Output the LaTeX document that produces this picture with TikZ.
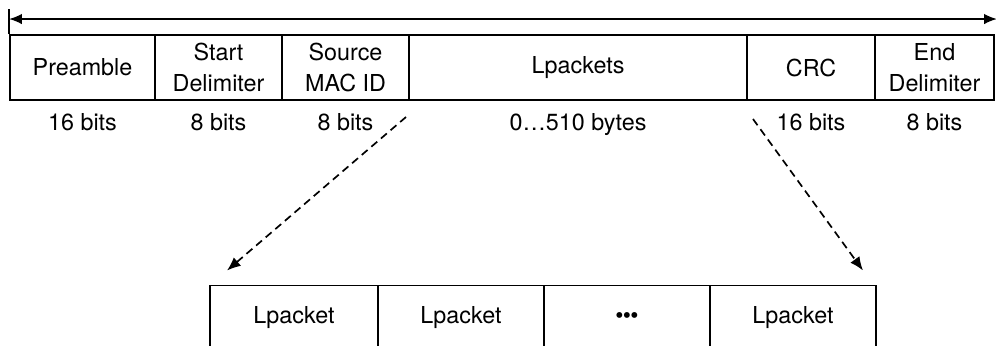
\documentclass[tikz,border=0pt]{standalone}
\usepackage{fontspec}
\setmainfont{TeX Gyre Heros}
\usepackage{tikz}
\usetikzlibrary{arrows.meta, positioning, calc}

\begin{document}
\begin{tikzpicture}[
    field/.style={rectangle, draw, line width=1.4pt, minimum width=#1, minimum height=1.625cm, inner sep=2pt, align=center, font=\fontsize{16.6}{22.5}\selectfont},
    size/.style={font=\fontsize{16.6}{22.5}\selectfont, text height=0.72em, text depth=0pt, inner sep=0pt},
    span/.style={{Latex[length=3.2mm,width=2.6mm]}-{Latex[length=3.2mm,width=2.6mm]}, line width=1.2pt},
    split/.style={-{Latex[length=3.4mm,width=2.8mm]}, line width=1.2pt, dash pattern=on 5.5pt off 3.5pt}
]
\useasboundingbox (0,0) rectangle (24.9,-8.625);

% frame fields
\node[field=3.625cm] (preamble) at (2.0625,-1.6875) {Preamble};
\node[field=3.175cm] (startdelim) at (5.4625,-1.6875) {Start\\Delimiter};
\node[field=3.175cm] (srcmac) at (8.6375,-1.6875) {Source\\MAC ID};
\node[field=8.45cm] (lpackets) at (14.45,-1.6875) {Lpackets};
\node[field=3.2cm] (crc) at (20.275,-1.6875) {CRC};
\node[field=2.975cm] (enddelim) at (23.3625,-1.6875) {End\\Delimiter};

% sizes
\node[size] (preamblebits) at ($(preamble.south)+(0,-0.6)$) {16 bits};
\node[size] (startbits) at ($(startdelim.south)+(0,-0.6)$) {8 bits};
\node[size] (srcbits) at ($(srcmac.south)+(0,-0.6)$) {8 bits};
\node[size] (lpbytes) at ($(lpackets.south)+(0,-0.6)$) {0…510 bytes};
\node[size] (crcbits) at ($(crc.south)+(0,-0.6)$) {16 bits};
\node[size] (endbits) at ($(enddelim.south)+(0,-0.6)$) {8 bits};

% frame length
\coordinate (spanl) at ($(preamble.north west)+(0,0.375)$);
\coordinate (spanr) at ($(enddelim.north east)+(0.05,0.375)$);
\draw[line width=1.2pt] (preamble.north west) -- ++(0,0.625);
\draw[span] (spanl) -- (spanr);

% Lpackets in detail
\node[field=4.2cm] (lp1) at (7.35,-7.95) {Lpacket};
\node[field=4.15cm] (lp2) at (11.525,-7.95) {Lpacket};
\node[field=4.15cm] (lpdots) at (15.675,-7.95) {\textbullet\hspace{-0.5pt}\textbullet\hspace{-0.5pt}\textbullet};
\node[field=4.15cm] (lpn) at (19.825,-7.95) {Lpacket};

\coordinate (splitl) at ($(lpackets.south west)+(-0.05,-0.4)$);
\coordinate (splitr) at ($(lpackets.south east)+(0.125,-0.45)$);
\coordinate (firstl) at ($(lp1.north west)+(0.45,0.35)$);
\coordinate (lastr) at ($(lpn.north east)+(-0.35,0.35)$);
\draw[split] (splitl) -- (firstl);
\draw[split] (splitr) -- (lastr);

\end{tikzpicture}
\end{document}
